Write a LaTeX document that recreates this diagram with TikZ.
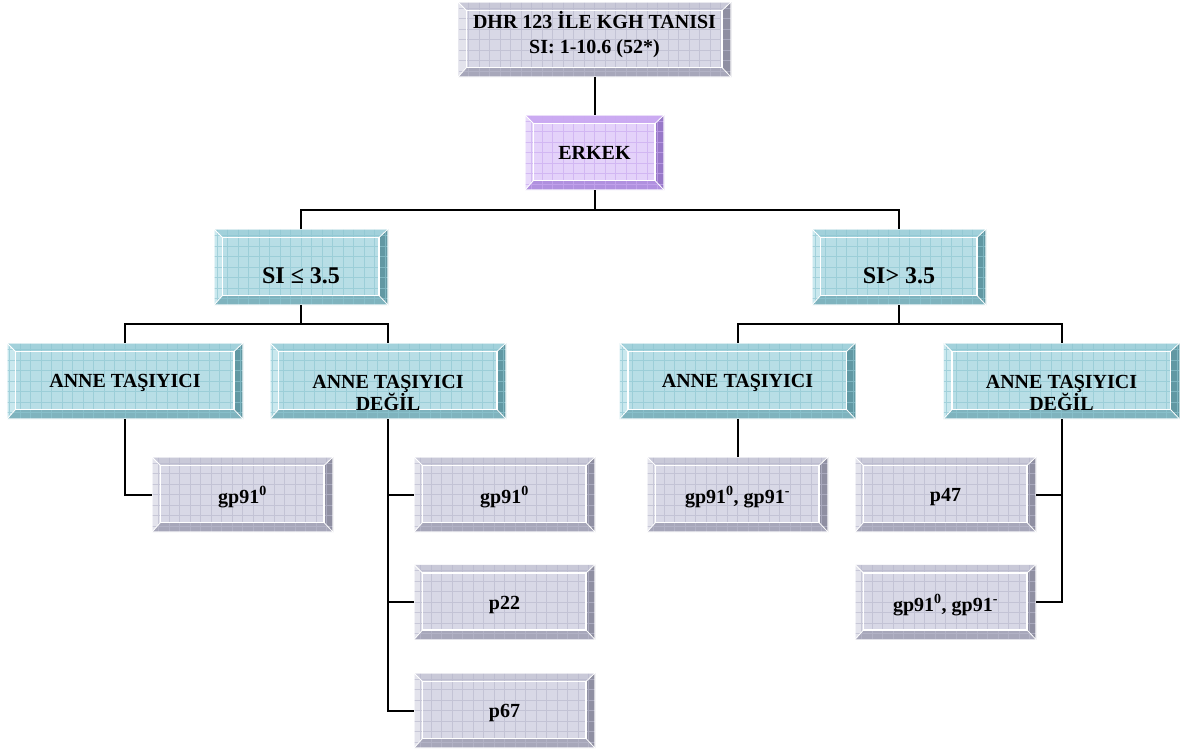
\documentclass[tikz,border=0pt]{standalone}
\usepackage{fontspec}
\setmainfont{Liberation Serif}
\usetikzlibrary{calc}

% colour families: face, grid, top, left, right, bottom
\definecolor{gFace}{HTML}{D8D8E6}
\definecolor{gGrid}{HTML}{B8B8CC}
\definecolor{gTop}{HTML}{C9C9D8}
\definecolor{gLeft}{HTML}{E3E3EC}
\definecolor{gRight}{HTML}{8F8FA2}
\definecolor{gBot}{HTML}{A7A7BA}

\definecolor{bFace}{HTML}{B8DEE6}
\definecolor{bGrid}{HTML}{8EC6D1}
\definecolor{bTop}{HTML}{A2D1DB}
\definecolor{bLeft}{HTML}{C9E8EE}
\definecolor{bRight}{HTML}{6198A3}
\definecolor{bBot}{HTML}{7FB3BE}

\definecolor{pFace}{HTML}{E4D2FA}
\definecolor{pGrid}{HTML}{C9AAF0}
\definecolor{pTop}{HTML}{CBAAF2}
\definecolor{pLeft}{HTML}{E8D9FB}
\definecolor{pRight}{HTML}{9878C8}
\definecolor{pBot}{HTML}{B090DF}

% paints a bevelled, grid-textured tile inside the node's path
\newcommand\bevelpaint[1]{%
  \coordinate (pp-nw) at (path picture bounding box.north west);
  \coordinate (pp-ne) at (path picture bounding box.north east);
  \coordinate (pp-sw) at (path picture bounding box.south west);
  \coordinate (pp-se) at (path picture bounding box.south east);
  \coordinate (in-nw) at ($(pp-nw)+(8.5pt,-8.5pt)$);
  \coordinate (in-ne) at ($(pp-ne)+(-9pt,-8.5pt)$);
  \coordinate (in-sw) at ($(pp-sw)+(8.5pt,9.5pt)$);
  \coordinate (in-se) at ($(pp-se)+(-9pt,9.5pt)$);
  \fill[#1Face] (pp-sw) rectangle (pp-ne);
  \fill[#1Top] (pp-nw) -- (pp-ne) -- (in-ne) -- (in-nw) -- cycle;
  \fill[#1Bot] (pp-sw) -- (pp-se) -- (in-se) -- (in-sw) -- cycle;
  \fill[#1Left] (pp-nw) -- (in-nw) -- (in-sw) -- (pp-sw) -- cycle;
  \fill[#1Right] (pp-ne) -- (in-ne) -- (in-se) -- (pp-se) -- cycle;
  \draw[#1Grid, line width=0.7pt, step=10.5pt, opacity=0.65] (pp-sw) grid (pp-ne);
  \draw[white, line width=1.3pt] (in-nw) rectangle (in-se);
  \draw[white, line width=0.8pt] (pp-nw) -- (in-nw) (pp-ne) -- (in-ne)
                                 (pp-sw) -- (in-sw) (pp-se) -- (in-se);
  \draw[white, line width=1.2pt, opacity=0.6] (pp-sw) rectangle (pp-ne);
}

\tikzset{
  x=1pt, y=-1pt,
  tile/.style={rectangle, inner sep=0pt, outer sep=0pt,
               path picture={\bevelpaint{#1}}},
  greytile/.style={tile=g, minimum width=181pt, minimum height=75pt},
  bluetile/.style={tile=b, minimum width=236pt, minimum height=76pt},
  sitile/.style={tile=b, minimum width=174pt, minimum height=76pt},
  txt/.style={inner sep=0pt, align=center,
              font=\bfseries\fontsize{20pt}{23pt}\selectfont},
  bigtxt/.style={inner sep=0pt, align=center,
              font=\bfseries\fontsize{24pt}{28pt}\selectfont},
  link/.style={draw=black, line width=2pt},
}

\begin{document}
\begin{tikzpicture}
\useasboundingbox (0,0) rectangle (1181,750);

% root and sex level
\node[tile=g, minimum width=273pt, minimum height=75pt] (top) at (594.5,39.5) {};
\node[txt, font=\bfseries\fontsize{20pt}{25pt}\selectfont] (top-t) at (594.5,35)
  {DHR 123 İLE KGH TANISI\\SI: 1-10.6 (52*)};

\node[tile=p, minimum width=139pt, minimum height=75pt] (erkek) at (594.5,152.5) {};
\node[txt] (erkek-t) at (594.5,153) {ERKEK};

% SI split
\node[sitile] (si1) at (301,267) {};
\node[bigtxt] (si1-t) at (301,276) {SI ≤ 3.5};
\node[sitile] (si2) at (899,267) {};
\node[bigtxt] (si2-t) at (899,276) {SI> 3.5};

% carrier status
\node[bluetile] (a1) at (125,381) {};
\node[txt] (a1-t) at (125,383) {ANNE TAŞIYICI};
\node[bluetile] (a2) at (388,381) {};
\node[txt, font=\bfseries\fontsize{20pt}{22pt}\selectfont] (a2-t) at (388,393) {ANNE TAŞIYICI\\DEĞİL};
\node[bluetile] (a3) at (737.5,381) {};
\node[txt] (a3-t) at (737.5,383) {ANNE TAŞIYICI};
\node[bluetile] (a4) at (1061.5,381) {};
\node[txt, font=\bfseries\fontsize{20pt}{22pt}\selectfont] (a4-t) at (1061.5,393) {ANNE TAŞIYICI\\DEĞİL};

% defects
\node[greytile] (l1) at (242.5,494.5) {};
\node[txt] (l1-t) at (242.5,497) {gp91\textsuperscript{0}};
\node[greytile] (l2) at (504.5,494.5) {};
\node[txt] (l2-t) at (504.5,497) {gp91\textsuperscript{0}};
\node[greytile] (l3) at (504.5,602) {};
\node[txt] (l3-t) at (504.5,605) {p22};
\node[greytile] (l4) at (504.5,710.5) {};
\node[txt] (l4-t) at (504.5,713) {p67};

\node[greytile] (r1) at (737.5,494.5) {};
\node[txt] (r1-t) at (737.5,497) {gp91\textsuperscript{0}, gp91\textsuperscript{-}};
\node[greytile] (r2) at (945.5,494.5) {};
\node[txt] (r2-t) at (945.5,497) {p47};
\node[greytile] (r3) at (945.5,602) {};
\node[txt] (r3-t) at (945.5,605) {gp91\textsuperscript{0}, gp91\textsuperscript{-}};

% connector buses
\coordinate (busA) at (0,210);
\coordinate (busB) at (0,324);

\draw[link] (top.south) -- (erkek.north);
\draw[link] (erkek.south) -- (erkek.south |- busA);
\draw[link] (si1.north) -- (si1.north |- busA) -- (si2.north |- busA) -- (si2.north);

\draw[link] (si1.south) -- (si1.south |- busB);
\draw[link] (a1.north) -- (a1.north |- busB) -- (a2.north |- busB) -- (a2.north);
\draw[link] (si2.south) -- (si2.south |- busB);
\draw[link] (a3.north) -- (a3.north |- busB) -- (a4.north |- busB) -- (a4.north);

\draw[link] (a1.south) |- (l1.west);
\draw[link] (a2.south) |- (l4.west);
\draw[link] (a2.south |- l2.west) -- (l2.west);
\draw[link] (a2.south |- l3.west) -- (l3.west);
\draw[link] (a3.south) -- (r1.north);
\draw[link] (a4.south) |- (r3.east);
\draw[link] (a4.south |- r2.east) -- (r2.east);
\end{tikzpicture}
\end{document}
